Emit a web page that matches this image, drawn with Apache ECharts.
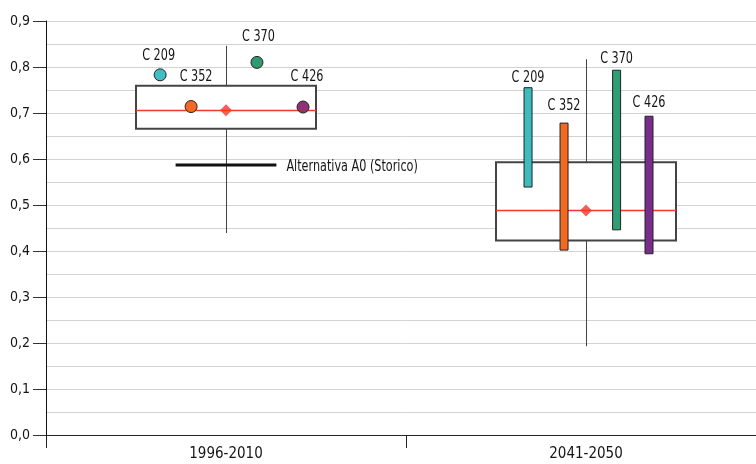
<!DOCTYPE html>
<html>
<head>
<meta charset="utf-8">
<script src="https://cdn.jsdelivr.net/npm/echarts@6/dist/echarts.min.js"></script>
<style>
html,body{margin:0;padding:0;background:#fff;}
#chart{width:756px;height:464px;}
</style>
</head>
<body>
<div id="chart"></div>
<script>
// ---- data ----
const categories = ['1996-2010', '2041-2050'];
const whiskerMin = [0.439, 0.193];
const boxQ1 = [0.666, 0.423];
const boxMedian = [0.706, 0.488];
const boxQ3 = [0.759, 0.593];
const whiskerMax = [0.846, 0.817];
const meanValues = [0.706, 0.488];

const models = ['C 209', 'C 352', 'C 370', 'C 426'];
// historical period: one value per model, x position in category units
const histX = [0.317, 0.403, 0.586, 0.714];
const histValues = [0.783, 0.714, 0.810, 0.713];
// future period: range per model
const futX = [1.339, 1.439, 1.585, 1.675];
const futLow = [0.539, 0.402, 0.446, 0.394];
const futHigh = [0.755, 0.678, 0.793, 0.693];

const a0Label = 'Alternativa A0 (Storico)';
const a0Value = 0.587;

// ---- styles ----
const FONT = "'DejaVu Sans Condensed', 'DejaVu Sans', sans-serif";
const TXT_SCALE = 0.78;
const TXT_COLOR = '#151515';
const pointColors = ['#3fbfc4', '#f26a22', '#2f9a70', '#8a3573'];
const barColors = ['#3dbcbf', '#f26a22', '#2e9e74', '#782c8c'];
const histLabelShift = [[-1.5, -18.5], [5, -29.5], [1.5, -25.5], [4, -30]];
const futLabelShift = [-10, -17, -11, -13];

const chart = echarts.init(document.getElementById('chart'), null, {renderer: 'canvas'});

function label(text, x, y, align) {
  return {
    type: 'text', x: x, y: y, scaleX: TXT_SCALE,
    style: {text: text, fill: TXT_COLOR, font: '16px ' + FONT, align: align || 'center', verticalAlign: 'middle'}
  };
}

function crisp(v) { return Math.round(v - 0.5) + 0.5; }

function renderBox(params, api) {
  const c = api.value(0);
  const pMin = api.coord([c, api.value(1)]);
  const pQ1 = api.coord([c, api.value(2)]);
  const pMed = api.coord([c, api.value(3)]);
  const pQ3 = api.coord([c, api.value(4)]);
  const pMax = api.coord([c, api.value(5)]);
  const bw = api.size([1, 0])[0] * 0.5;
  const x0 = pMed[0] - bw / 2;
  const wx = crisp(pMed[0]);
  return {
    type: 'group',
    children: [
      {type: 'line', shape: {x1: wx, y1: pMax[1], x2: wx, y2: pQ3[1]}, style: {stroke: '#444', lineWidth: 1}},
      {type: 'line', shape: {x1: wx, y1: pQ1[1], x2: wx, y2: pMin[1]}, style: {stroke: '#444', lineWidth: 1}},
      {type: 'rect', shape: {x: x0, y: pQ3[1], width: bw, height: pQ1[1] - pQ3[1]}, style: {fill: '#fff', stroke: '#444', lineWidth: 2}},
      {type: 'line', shape: {x1: x0, y1: crisp(pMed[1]), x2: x0 + bw, y2: crisp(pMed[1])}, style: {stroke: '#f0392b', lineWidth: 1.3}}
    ]
  };
}

function renderA0(params, api) {
  const p = api.coord([api.value(0), api.value(1)]);
  const half = api.size([1, 0])[0] * 0.14;
  return {
    type: 'group',
    children: [
      {type: 'line', shape: {x1: p[0] - half, y1: p[1], x2: p[0] + half, y2: p[1]}, style: {stroke: '#111', lineWidth: 3}},
      label(a0Label, p[0] + half + 10, p[1] + 2, 'left')
    ]
  };
}

function renderBar(params, api) {
  const i = params.dataIndex;
  const pLow = api.coord([api.value(0), api.value(1)]);
  const pHigh = api.coord([api.value(0), api.value(2)]);
  const w = 8;
  return {
    type: 'group',
    children: [
      {type: 'rect', shape: {x: pLow[0] - w / 2, y: pHigh[1], width: w, height: pLow[1] - pHigh[1]}, style: {fill: barColors[i], stroke: '#222', lineWidth: 1}},
      label(models[i], pHigh[0], pHigh[1] + futLabelShift[i])
    ]
  };
}

function renderPoint(params, api) {
  const i = params.dataIndex;
  const p = api.coord([api.value(0), api.value(1)]);
  return {
    type: 'group',
    children: [
      {type: 'circle', shape: {cx: p[0], cy: p[1], r: 6}, style: {fill: pointColors[i], stroke: '#222', lineWidth: 1}},
      label(models[i], p[0] + histLabelShift[i][0], p[1] + histLabelShift[i][1])
    ]
  };
}

const option = {
  animation: false,
  backgroundColor: '#fff',
  grid: {left: 46, right: -10, top: 21, bottom: 29, containLabel: false, outerBoundsMode: 'none'},
  xAxis: [
    {
      type: 'category',
      data: categories,
      boundaryGap: true,
      axisLine: {show: true, lineStyle: {color: '#222', width: 1}},
      axisTick: {show: true, length: 13, lineStyle: {color: '#222', width: 1}},
      axisLabel: {color: TXT_COLOR, fontSize: 15, fontFamily: FONT, margin: 12},
      splitLine: {show: false}
    },
    {
      type: 'value', min: 0, max: 2, show: false
    }
  ],
  yAxis: {
    type: 'value',
    min: 0, max: 0.9, interval: 0.1,
    axisLine: {show: true, lineStyle: {color: '#111', width: 1}},
    axisTick: {show: true, inside: false, length: 13, lineStyle: {color: '#333', width: 1}},
    axisLabel: {
      color: TXT_COLOR, fontSize: 14, fontFamily: FONT, margin: 16,
      formatter: v => v.toFixed(1).replace('.', ',')
    },
    splitLine: {show: true, lineStyle: {color: '#d2d2d2', width: 1}},
    minorTick: {show: false, splitNumber: 2},
    minorSplitLine: {show: true, lineStyle: {color: '#d2d2d2', width: 1}}
  },
  series: [
    {
      type: 'custom', name: 'box', xAxisIndex: 0,
      renderItem: renderBox,
      encode: {x: 0, y: [1, 2, 3, 4, 5]},
      data: categories.map((c, i) => [i, whiskerMin[i], boxQ1[i], boxMedian[i], boxQ3[i], whiskerMax[i]])
    },
    {
      type: 'custom', name: 'A0', xAxisIndex: 0,
      renderItem: renderA0,
      encode: {x: 0, y: 1},
      data: [[0, a0Value]]
    },
    {
      type: 'scatter', name: 'mean', xAxisIndex: 0,
      symbol: 'diamond', symbolSize: 12,
      itemStyle: {color: '#f0392b'},
      data: meanValues.map((v, i) => [i, v])
    },
    {
      type: 'custom', name: 'future', xAxisIndex: 1,
      renderItem: renderBar,
      encode: {x: 0, y: [1, 2]},
      data: futX.map((x, i) => [x, futLow[i], futHigh[i]])
    },
    {
      type: 'custom', name: 'hist', xAxisIndex: 1,
      renderItem: renderPoint,
      encode: {x: 0, y: 1},
      data: histX.map((x, i) => [x, histValues[i]])
    }
  ]
};
chart.setOption(option);
</script>
</body>
</html>
